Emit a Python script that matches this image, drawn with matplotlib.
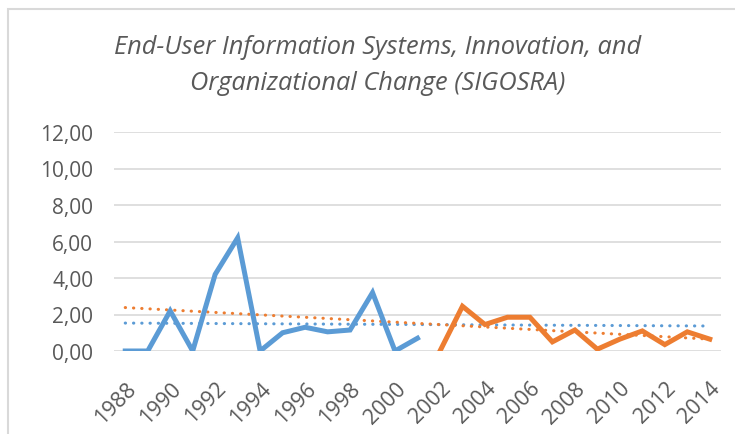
import numpy as np
import matplotlib.pyplot as plt
from matplotlib.patches import Rectangle

years = list(range(1988, 2015))
blue_years = list(range(1988, 2002))
blue_vals = [0, 0, 2.2, 0, 4.2, 6.2, 0, 1.0, 1.3, 1.05, 1.15, 3.2, 0, 0.7]
orange_years = list(range(2002, 2015))
orange_vals = [0, 2.45, 1.45, 1.85, 1.85, 0.5, 1.15, 0.1, 0.65, 1.1, 0.35, 1.05, 0.65]
# trendline end values (1988 -> 2014)
blue_trend = [1.53, 1.37]
orange_trend = [2.38, 0.65]
yticks = [0, 2, 4, 6, 8, 10, 12]

blue = "#5B9BD5"
orange = "#ED7D31"
txt = "#595959"

plt.rcParams['font.family'] = ['Open Sans', 'DejaVu Sans']

fig = plt.figure(figsize=(7.35, 4.35), dpi=100)
ax = fig.add_axes([114/735, 83/435, 607/735, 219/435])

idx = {y: i for i, y in enumerate(years)}
bx = [idx[y] for y in blue_years]
ox = [idx[y] for y in orange_years]

for v in yticks:
    ax.axhline(v, color="#D9D9D9", lw=1.2, zorder=0)

ax.plot(bx, blue_vals, color=blue, lw=3.6, solid_joinstyle="miter", zorder=3)
ax.plot(ox, orange_vals, color=orange, lw=3.6, solid_joinstyle="miter", zorder=3)

tx = [0, len(years) - 1]
ax.plot(tx, blue_trend, color=blue, lw=2.2, linestyle=(0, (0.1, 2.6)),
        dash_capstyle="round", zorder=2)
ax.plot(tx, orange_trend, color=orange, lw=2.2, linestyle=(0, (0.1, 2.6)),
        dash_capstyle="round", zorder=2)

ax.set_xlim(-0.5, len(years) - 0.5)
ax.set_ylim(0, 12)
ax.set_yticks(yticks)
ax.set_yticklabels([f"{v:.2f}".replace(".", ",") for v in yticks], color=txt, fontsize=15)
lab_years = years[::2]
ax.set_xticks([idx[y] for y in lab_years])
ax.set_xticklabels([str(y) for y in lab_years], rotation=45, ha="right", va="top",
                   rotation_mode="anchor", color=txt, fontsize=15.5)
ax.tick_params(axis="y", length=0, pad=15)
ax.tick_params(axis="x", length=0, pad=19)
for s in ax.spines.values():
    s.set_visible(False)

fig.text(378/735, 1 - 48/435, "End-User Information Systems, Innovation, and",
         ha="center", va="center", style="italic", color=txt, fontsize=18.3)
fig.text(378/735, 1 - 84/435, "Organizational Change (SIGOSRA)",
         ha="center", va="center", style="italic", color=txt, fontsize=18.3)

fig.patches.append(Rectangle((8/735, -0.1), 1.0, 1.1 - 10/435, transform=fig.transFigure,
                             fill=False, edgecolor="#D9D9D9", lw=1.5))

fig.savefig("out.png", dpi=100, facecolor="white")
